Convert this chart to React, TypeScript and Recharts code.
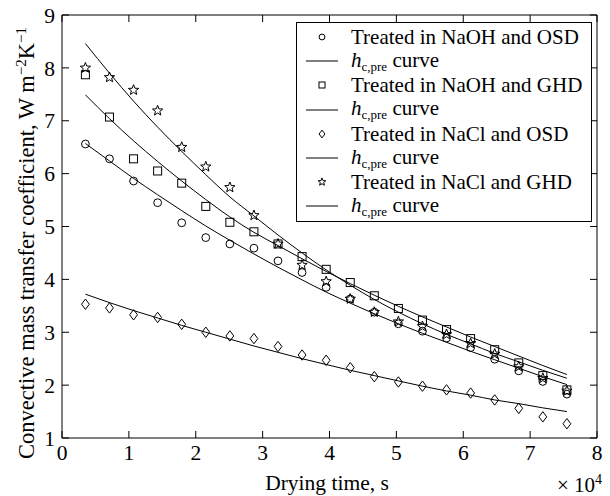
import React from "react";
import { ComposedChart, Line, Scatter, XAxis, YAxis } from "recharts";

// drying time in units of 10^4 s
const timeX = [0.35, 0.71, 1.07, 1.43, 1.79, 2.15, 2.51, 2.87, 3.23, 3.59, 3.95, 4.31, 4.67, 5.03, 5.39, 5.75, 6.11, 6.47, 6.83, 7.19, 7.55];

// measured points
const naohOsd = [6.56, 6.28, 5.86, 5.45, 5.07, 4.79, 4.67, 4.59, 4.35, 4.13, 3.85, 3.63, 3.38, 3.16, 3.02, 2.89, 2.71, 2.49, 2.27, 2.07, 1.83];
const naohGhd = [7.87, 7.07, 6.28, 6.05, 5.82, 5.38, 5.08, 4.9, 4.67, 4.43, 4.19, 3.94, 3.69, 3.45, 3.23, 3.05, 2.88, 2.67, 2.42, 2.18, 1.91];
const naclOsd = [3.53, 3.46, 3.33, 3.28, 3.15, 3.0, 2.93, 2.88, 2.73, 2.57, 2.47, 2.33, 2.16, 2.06, 1.98, 1.91, 1.85, 1.72, 1.56, 1.4, 1.27];
const naclGhd = [8.0, 7.82, 7.58, 7.19, 6.5, 6.13, 5.74, 5.21, 4.67, 4.27, 3.96, 3.63, 3.38, 3.2, 3.11, 2.96, 2.79, 2.59, 2.35, 2.13, 1.89];

// h_c,pre predicted curves
const curveNaohOsd = [6.57, 6.24, 5.91, 5.6, 5.3, 5.01, 4.74, 4.48, 4.23, 3.99, 3.76, 3.55, 3.35, 3.16, 2.98, 2.81, 2.64, 2.48, 2.32, 2.16, 2.01];
const curveNaohGhd = [7.49, 7.04, 6.62, 6.23, 5.86, 5.51, 5.18, 4.89, 4.64, 4.39, 4.15, 3.92, 3.7, 3.49, 3.29, 3.1, 2.91, 2.73, 2.55, 2.37, 2.2];
const curveNaclOsd = [3.72, 3.56, 3.41, 3.27, 3.13, 3.0, 2.87, 2.74, 2.62, 2.5, 2.39, 2.28, 2.18, 2.08, 1.98, 1.89, 1.81, 1.72, 1.65, 1.57, 1.5];
const curveNaclGhd = [8.46, 7.9, 7.37, 6.88, 6.42, 5.98, 5.56, 5.2, 4.84, 4.5, 4.18, 3.89, 3.62, 3.38, 3.16, 2.96, 2.78, 2.6, 2.44, 2.28, 2.13];

const xTicks = [0, 1, 2, 3, 4, 5, 6, 7, 8];
const yTicks = [1, 2, 3, 4, 5, 6, 7, 8, 9];

const legendLabels = [
  "Treated in NaOH and OSD",
  "Treated in NaOH and GHD",
  "Treated in NaCl and OSD",
  "Treated in NaCl and GHD",
];

const FONT = "'Liberation Serif', 'Times New Roman', serif";

const curveTable = timeX.map((x, i) => ({
  x,
  c1: curveNaohOsd[i],
  c2: curveNaohGhd[i],
  c3: curveNaclOsd[i],
  c4: curveNaclGhd[i],
}));

const pts = (ys: number[]) => timeX.map((x, i) => ({ x, y: ys[i] }));

type Kind = "circle" | "square" | "diamond" | "star";

function Marker({ kind, cx, cy, s = 1 }: { kind: Kind; cx: number; cy: number; s?: number }) {
  const common = { fill: "none", stroke: "#000", strokeWidth: 1 };
  if (kind === "circle") return <circle cx={cx} cy={cy} r={3.9 * s} {...common} />;
  if (kind === "square") return <rect x={cx - 4 * s} y={cy - 4 * s} width={8 * s} height={8 * s} {...common} />;
  if (kind === "diamond") {
    const w = 3.9 * s, h = 5.2 * s;
    return <polygon points={`${cx},${cy - h} ${cx + w},${cy} ${cx},${cy + h} ${cx - w},${cy}`} {...common} />;
  }
  const outer = 5.4 * s, inner = 2.3 * s;
  const p: string[] = [];
  for (let k = 0; k < 10; k++) {
    const r = k % 2 === 0 ? outer : inner;
    const a = -Math.PI / 2 + (k * Math.PI) / 5;
    p.push(`${cx + r * Math.cos(a)},${cy + r * Math.sin(a)}`);
  }
  return <polygon points={p.join(" ")} {...common} />;
}

const shapeOf = (kind: Kind) => (props: any) => {
  if (props.cx == null || props.cy == null) return <g />;
  return <Marker kind={kind} cx={props.cx} cy={props.cy} />;
};

const kinds: Kind[] = ["circle", "square", "diamond", "star"];

function LegendBox() {
  const rows: React.ReactNode[] = [];
  legendLabels.forEach((label, i) => {
    rows.push(
      <div key={`m${i}`} style={{ height: 24.2, display: "flex", alignItems: "center" }}>
        <svg width={54} height={24} style={{ flex: "none" }}>
          <Marker kind={kinds[i]} cx={25} cy={12} s={0.75} />
        </svg>
        <span>{label}</span>
      </div>
    );
    rows.push(
      <div key={`l${i}`} style={{ height: 24.2, display: "flex", alignItems: "center" }}>
        <svg width={54} height={24} style={{ flex: "none" }}>
          <line x1={9} x2={41} y1={12} y2={12} stroke="#000" strokeWidth={1} />
        </svg>
        <span>
          <i>h</i>
          <span style={{ fontSize: 13, position: "relative", top: 4 }}>c,pre</span> curve
        </span>
      </div>
    );
  });
  return (
    <div
      style={{
        position: "absolute",
        left: 296,
        top: 22,
        width: 296,
        height: 200,
        boxSizing: "border-box",
        border: "1px solid #000",
        background: "#fff",
        paddingTop: 2,
        fontFamily: FONT,
        fontSize: 21,
        lineHeight: "24px",
        color: "#000",
        whiteSpace: "nowrap",
      }}
    >
      {rows}
    </div>
  );
}

const tickStyle = { fill: "#000", fontSize: 21.5, fontFamily: FONT };
const noTick = () => <g />;

export default function App() {
  return (
    <div style={{ position: "absolute", left: 0, top: 0, width: 610, height: 496, background: "#fff" }}>
      <ComposedChart width={610} height={496} data={curveTable} margin={{ top: 0, right: 0, bottom: 0, left: 0 }}>
        <XAxis
          dataKey="x"
          type="number"
          domain={[0, 8]}
          ticks={xTicks}
          allowDataOverflow
          height={58}
          stroke="#000"
          tickSize={-7}
          tickMargin={14}
          tick={tickStyle}
        />
        <XAxis
          xAxisId="top"
          orientation="top"
          dataKey="x"
          type="number"
          domain={[0, 8]}
          ticks={xTicks}
          allowDataOverflow
          height={15}
          stroke="#000"
          tickSize={-7}
          tick={noTick}
        />
        <YAxis
          type="number"
          domain={[1, 9]}
          ticks={yTicks}
          allowDataOverflow
          width={62}
          stroke="#000"
          tickSize={-7}
          tickMargin={14}
          tick={tickStyle}
        />
        <YAxis
          yAxisId="right"
          orientation="right"
          type="number"
          domain={[1, 9]}
          ticks={yTicks}
          allowDataOverflow
          width={13}
          stroke="#000"
          tickSize={-7}
          tick={noTick}
        />
        <Line dataKey="c1" type="monotone" stroke="#000" strokeWidth={1} dot={false} isAnimationActive={false} />
        <Line dataKey="c2" type="monotone" stroke="#000" strokeWidth={1} dot={false} isAnimationActive={false} />
        <Line dataKey="c3" type="monotone" stroke="#000" strokeWidth={1} dot={false} isAnimationActive={false} />
        <Line dataKey="c4" type="monotone" stroke="#000" strokeWidth={1} dot={false} isAnimationActive={false} />
        <Scatter data={pts(naohOsd)} dataKey="y" shape={shapeOf("circle")} isAnimationActive={false} />
        <Scatter data={pts(naohGhd)} dataKey="y" shape={shapeOf("square")} isAnimationActive={false} />
        <Scatter data={pts(naclOsd)} dataKey="y" shape={shapeOf("diamond")} isAnimationActive={false} />
        <Scatter data={pts(naclGhd)} dataKey="y" shape={shapeOf("star")} isAnimationActive={false} />
      </ComposedChart>

      {/* axis titles */}
      <svg width={610} height={496} style={{ position: "absolute", left: 0, top: 0, pointerEvents: "none" }}>
        <text x={327} y={490} textAnchor="middle" fontFamily={FONT} fontSize={21.5} fill="#000">
          Drying time, s
        </text>
        <text x={602} y={492} textAnchor="end" fontFamily={FONT} fontSize={21} fill="#000">
          × 10<tspan dy={-8} fontSize={14}>4</tspan>
        </text>
        <text
          x={34}
          y={243}
          textAnchor="middle"
          fontFamily={FONT}
          fontSize={22.5}
          fill="#000"
          transform="rotate(-90, 34, 243)"
        >
          Convective mass transfer coefficient, W m
          <tspan dy={-8} fontSize={15}>−2</tspan>
          <tspan dy={8}>K</tspan>
          <tspan dy={-8} fontSize={15}>−1</tspan>
        </text>
      </svg>

      <LegendBox />
    </div>
  );
}
